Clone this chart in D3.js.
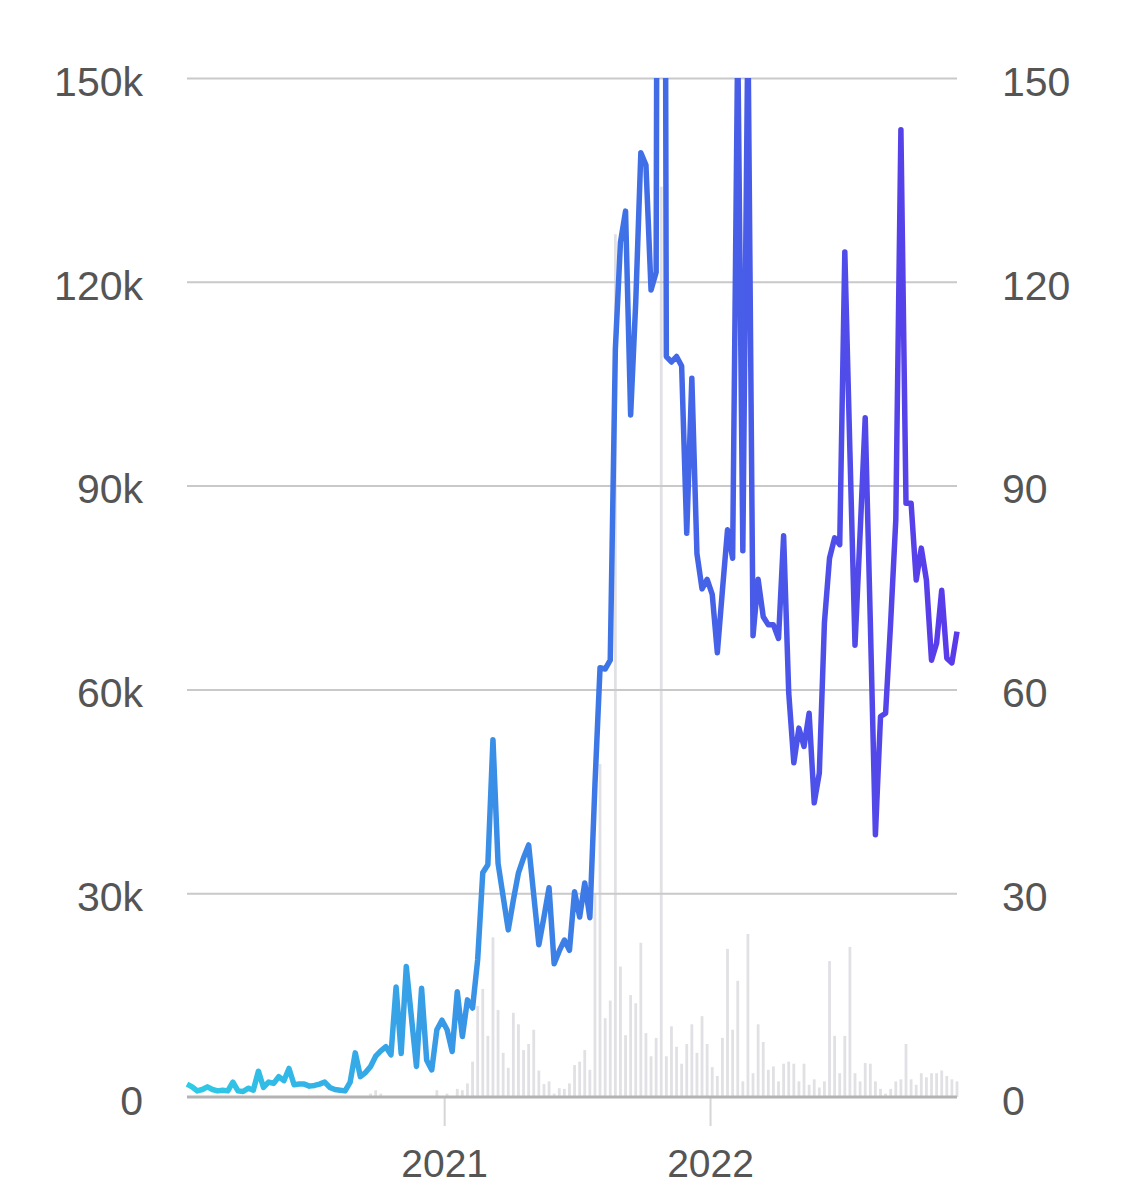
<!DOCTYPE html>
<html>
<head>
<meta charset="utf-8">
<script src="https://cdn.jsdelivr.net/npm/d3@7"></script>
<style>
    body { margin: 0; background: #fff; }
    text { font-family: "Liberation Sans", Arial, sans-serif; }
</style>
</head>
<body>
<div id="chart"></div>
<script>
// weekly series, first week
const startDate = "2020-01-14";

// line: weekly views, in thousands (left axis)
const viewsK = [
    1.9, 1.5, 0.9, 1.1, 1.5, 1.1, 0.9, 1.0, 0.9, 2.2,
    0.9, 0.8, 1.3, 1.0, 3.8, 1.4, 2.2, 2.0, 3.0, 2.4,
    4.2, 1.8, 1.9, 1.9, 1.6, 1.7, 1.9, 2.2, 1.4, 1.1,
    1.0, 0.9, 2.2, 6.5, 3.0, 3.6, 4.5, 6.0, 6.8, 7.4,
    6.2, 16.2, 6.4, 19.2, 11.8, 4.5, 16.0, 5.4, 4.0, 9.9,
    11.3, 9.9, 6.7, 15.5, 8.9, 14.3, 13.1, 20.2, 33.0, 34.2,
    52.6, 34.4, 29.5, 24.6, 29.0, 33.0, 35.2, 37.1, 29.7, 22.4,
    26.5, 30.8, 19.6, 21.5, 23.1, 21.6, 30.2, 26.5, 31.5, 26.4,
    46, 63.2, 63.0, 64.3, 110, 125.8, 130.4, 100.4, 117, 139,
    137.2, 118.8, 121.4, 420, 109, 108.2, 109, 107.6, 83, 105.8,
    80, 74.8, 76.2, 74, 65.4, 74.6, 83.5, 79.3, 156, 80.4,
    158, 67.9, 76.2, 70.7, 69.5, 69.5, 67.5, 82.6, 59.5, 49.2,
    54.3, 51.6, 56.5, 43.3, 47.7, 69.8, 79.3, 82.3, 81.3, 124.4,
    95, 66.5, 83, 100, 70, 38.6, 56, 56.5, 70, 85,
    142.4, 87.4, 87.4, 76.1, 80.8, 76.1, 64.3, 66.8, 74.6, 64.6,
    63.9, 68.5
];

// bars: weekly count (right axis)
const barCounts = [
    0, 0, 0, 0, 0, 0, 0, 0, 0, 0,
    0, 0, 0, 0, 0, 0, 0, 0, 0, 0,
    0, 0, 0, 0, 0, 0, 0, 0, 0, 0,
    0, 0, 0, 0, 0, 0, 0.5, 1, 0.5, 0,
    0, 0, 0, 0, 0, 0, 0, 0, 0, 1,
    0, 0.5, 0, 1.2, 1, 2, 5.2, 13.4, 15.9, 9,
    23.5, 12.8, 6.5, 4.3, 12.4, 10.7, 6.9, 7.8, 9.9, 3.9,
    1.9, 2.3, 0.5, 1.3, 1.2, 2, 4.7, 5.2, 6.9, 4,
    30, 49, 11.6, 14.2, 127, 19.2, 9.1, 15, 13.8, 22.7,
    9.4, 6, 8.7, 134, 6, 10.4, 7.4, 4.9, 7.8, 10.7,
    6.5, 11.9, 7.8, 4.4, 3.1, 8.7, 21.8, 9.9, 17.1, 2.3,
    24, 3.5, 10.7, 8.1, 4, 4.5, 2.3, 4.9, 5.2, 4.9,
    2.3, 4.9, 1.8, 2.6, 1.4, 2.3, 20, 9, 3.5, 9,
    22.1, 3.5, 2.3, 5, 4.9, 2.3, 1.2, 0.5, 1.2, 2.3,
    2.6, 7.8, 2.6, 1.8, 3.5, 2.9, 3.5, 3.5, 3.9, 3.1,
    2.6, 2.3
];

const leftTicks = [0, 30, 60, 90, 120, 150];
const leftTickLabels = ["0", "30k", "60k", "90k", "120k", "150k"];
const rightTicks = [0, 30, 60, 90, 120, 150];
const yearTicks = ["2021-01-01", "2022-01-01"];

const W = 1126, H = 1200;
let margin = {top: 78, right: 169, bottom: 103, left: 187};

let svg = d3.select("#chart").append("svg")
    .attr("width", W)
    .attr("height", H);

let start = new Date(startDate + "T00:00:00");
let weeks = viewsK.map((v, i) => d3.timeDay.offset(start, 7 * i));

let xScale = d3.scaleTime()
    .domain([weeks[0], weeks[weeks.length - 1]])
    .range([margin.left, W - margin.right]);

let yScale = d3.scaleLinear()
    .domain([0, 150])
    .range([H - margin.bottom, margin.top]);

let yRight = d3.scaleLinear()
    .domain([0, 150])
    .range([H - margin.bottom, margin.top]);

//Gradient for the line
let grad = svg.append("defs").append("linearGradient")
    .attr("id", "lineGrad")
    .attr("gradientUnits", "userSpaceOnUse")
    .attr("x1", margin.left).attr("x2", W - margin.right)
    .attr("y1", 0).attr("y2", 0);
[[0, "#2ecbe6"], [0.3, "#379fe6"], [0.55, "#3e74e6"], [0.78, "#4b55e9"], [1, "#5a3aea"]]
    .forEach(s => grad.append("stop").attr("offset", s[0]).attr("stop-color", s[1]));

svg.select("defs").append("clipPath").attr("id", "plotClip")
    .append("rect")
    .attr("x", margin.left - 10).attr("y", margin.top)
    .attr("width", W - margin.left - margin.right + 20)
    .attr("height", H - margin.top - margin.bottom + 10);

//Bars (right axis)
svg.append("g").selectAll("rect")
    .data(barCounts.map((c, i) => ({date: weeks[i], count: c})).filter(d => d.count > 0))
    .enter().append("rect")
    .attr("x", d => xScale(d.date) - 1.4)
    .attr("width", 2.8)
    .attr("y", d => yRight(d.count))
    .attr("height", d => yRight(0) - yRight(d.count))
    .attr("fill", "#e1e1e5");

//Gridlines
svg.append("g")
    .attr("transform", "translate(" + margin.left + ",0)")
    .call(d3.axisRight(yScale).tickValues(leftTicks.slice(1)).tickSize(W - margin.left - margin.right).tickFormat(""))
    .call(g => g.select(".domain").remove())
    .call(g => g.selectAll("line").attr("stroke", "#c9c9c9").attr("stroke-width", 2));

//Year ticks and labels
svg.append("g")
    .attr("transform", "translate(0," + (H - margin.bottom) + ")")
    .call(d3.axisBottom(xScale)
        .tickValues(yearTicks.map(d => new Date(d + "T00:00:00")))
        .tickSize(29).tickPadding(23)
        .tickFormat(d3.timeFormat("%Y")))
    .call(g => g.select(".domain").remove())
    .call(g => g.selectAll("line").attr("stroke", "#d6d6d6").attr("stroke-width", 2))
    .call(g => g.selectAll("text").attr("fill", "#555").attr("font-size", 39)
        .attr("font-family", "'Liberation Sans', Arial, sans-serif"));

//Baseline
svg.append("line")
    .attr("x1", margin.left).attr("x2", W - margin.right)
    .attr("y1", yScale(0)).attr("y2", yScale(0))
    .attr("stroke", "#b3b3b3").attr("stroke-width", 3);

//Left axis labels
svg.append("g")
    .attr("transform", "translate(" + (margin.left - 44) + ",0)")
    .call(d3.axisLeft(yScale).tickValues(leftTicks).tickSize(0).tickPadding(0)
        .tickFormat((d, i) => leftTickLabels[i]))
    .call(g => g.select(".domain").remove())
    .call(g => g.selectAll("text").attr("fill", "#555").attr("font-size", 41).attr("dy", "0.42em")
        .attr("font-family", "'Liberation Sans', Arial, sans-serif"));

//Right axis labels
svg.append("g")
    .attr("transform", "translate(" + (W - margin.right + 45) + ",0)")
    .call(d3.axisRight(yRight).tickValues(rightTicks).tickSize(0).tickPadding(0))
    .call(g => g.select(".domain").remove())
    .call(g => g.selectAll("text").attr("fill", "#555").attr("font-size", 41).attr("dy", "0.42em")
        .attr("font-family", "'Liberation Sans', Arial, sans-serif"));

//Line
let lineGen = d3.line()
    .x((d, i) => xScale(weeks[i]))
    .y(d => yScale(d));

svg.append("path")
    .datum(viewsK)
    .attr("clip-path", "url(#plotClip)")
    .attr("fill", "none")
    .attr("stroke", "url(#lineGrad)")
    .attr("stroke-width", 5.5)
    .attr("stroke-linejoin", "round")
    .attr("d", lineGen);
</script>
</body>
</html>
